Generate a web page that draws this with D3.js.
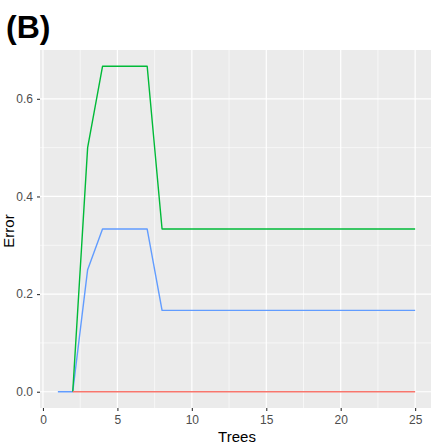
<!DOCTYPE html>
<html>
<head>
<meta charset="utf-8">
<style>
  body { margin: 0; background: #fff; }
  svg { display: block; font-family: Arial, 'Liberation Sans', sans-serif; }
  .grid line { stroke: #fff; }
  .tick-label { font-size: 12px; fill: #4d4d4d; }
</style>
</head>
<body>
<svg width="431" height="444"></svg>
<script src="https://d3js.org/d3.v7.min.js"></script>
<script>
// chart data
const trees = d3.range(1, 26);
const redErr = [null, 0, 0, 0, 0, 0, 0, 0, 0, 0, 0, 0, 0, 0, 0, 0, 0, 0, 0, 0, 0, 0, 0, 0, 0];
const blueErr = [0, 0, 0.25, 0.3333, 0.3333, 0.3333, 0.3333, 0.1667, 0.1667, 0.1667, 0.1667, 0.1667, 0.1667,
                 0.1667, 0.1667, 0.1667, 0.1667, 0.1667, 0.1667, 0.1667, 0.1667, 0.1667, 0.1667, 0.1667, 0.1667];
const greenErr = [null, 0, 0.5, 0.6667, 0.6667, 0.6667, 0.6667, 0.3333, 0.3333, 0.3333, 0.3333, 0.3333, 0.3333,
                  0.3333, 0.3333, 0.3333, 0.3333, 0.3333, 0.3333, 0.3333, 0.3333, 0.3333, 0.3333, 0.3333, 0.3333];
const xTicks = [0, 5, 10, 15, 20, 25];
const yTicks = [0, 0.2, 0.4, 0.6];

const svg = d3.select("svg");
const m = { left: 40, right: 433, top: 50, bottom: 408 };

const x = d3.scaleLinear().domain([-0.2, 26.2]).range([m.left, m.right]);
const y = d3.scaleLinear().domain([-0.0333, 0.7]).range([m.bottom, m.top]);

// panel background
svg.append("rect")
  .attr("x", m.left).attr("y", m.top)
  .attr("width", m.right - m.left).attr("height", m.bottom - m.top)
  .attr("fill", "#EBEBEB");

const grid = svg.append("g").attr("class", "grid");
// minor grid
const xMinor = [2.5, 7.5, 12.5, 17.5, 22.5];
const yMinor = [0.1, 0.3, 0.5];
grid.selectAll(".xm").data(xMinor).join("line")
  .attr("x1", d => x(d)).attr("x2", d => x(d))
  .attr("y1", m.top).attr("y2", m.bottom).attr("stroke-width", 0.6);
grid.selectAll(".ym").data(yMinor).join("line")
  .attr("y1", d => y(d)).attr("y2", d => y(d))
  .attr("x1", m.left).attr("x2", m.right).attr("stroke-width", 0.6);
// major grid
grid.selectAll(".xM").data(xTicks).join("line")
  .attr("x1", d => x(d)).attr("x2", d => x(d))
  .attr("y1", m.top).attr("y2", m.bottom).attr("stroke-width", 1.2);
grid.selectAll(".yM").data(yTicks).join("line")
  .attr("y1", d => y(d)).attr("y2", d => y(d))
  .attr("x1", m.left).attr("x2", m.right).attr("stroke-width", 1.2);

// axes
const xAxis = svg.append("g")
  .attr("transform", `translate(0,${m.bottom})`)
  .call(d3.axisBottom(x).tickValues(xTicks).tickSize(3).tickPadding(4));
const yAxis = svg.append("g")
  .attr("transform", `translate(${m.left},0)`)
  .call(d3.axisLeft(y).tickValues(yTicks).tickSize(3).tickPadding(4).tickFormat(d3.format(".1f")));
[xAxis, yAxis].forEach(g => {
  g.select(".domain").remove();
  g.selectAll(".tick line").attr("stroke", "#333").attr("stroke-width", 1.1);
  g.selectAll(".tick text").attr("class", "tick-label");
  g.attr("font-family", null).attr("font-size", null);
});

// lines
const line = d3.line()
  .defined(d => d[1] !== null)
  .x(d => x(d[0])).y(d => y(d[1]));
const series = [
  { vals: blueErr, color: "#619CFF" },
  { vals: greenErr, color: "#00BA38" },
  { vals: redErr, color: "#F8766D" }
];
series.forEach(s => {
  svg.append("path")
    .datum(trees.map((t, i) => [t, s.vals[i]]))
    .attr("d", line)
    .attr("fill", "none")
    .attr("stroke", s.color)
    .attr("stroke-width", 1.4)
    .attr("stroke-linejoin", "round");
});

// titles
svg.append("text")
  .attr("x", 6).attr("y", 38)
  .attr("font-size", 32).attr("font-weight", "bold").attr("fill", "#000")
  .text("(B)");
svg.append("text")
  .attr("x", 237).attr("y", 442)
  .attr("text-anchor", "middle").attr("font-size", 15).attr("fill", "#000")
  .text("Trees");
svg.append("text")
  .attr("transform", "translate(14,231) rotate(-90)")
  .attr("text-anchor", "middle").attr("font-size", 15).attr("fill", "#000")
  .text("Error");
</script>
</body>
</html>
